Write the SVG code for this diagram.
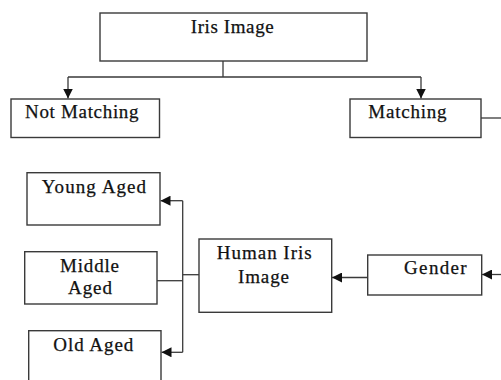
<svg xmlns="http://www.w3.org/2000/svg" width="501" height="380" viewBox="0 0 501 380">
<style>
.box{fill:#fff;stroke:#3a3a3a;stroke-width:1.4}
.t{font-family:"Liberation Serif","Times New Roman",serif;font-size:19px;fill:#111;stroke:#111;stroke-width:0.25}
.ln{fill:none;stroke:#3a3a3a;stroke-width:1.3}
</style>
<defs>
<marker id="ah" viewBox="0 0 10 10" refX="10" refY="5" markerWidth="10" markerHeight="10" markerUnits="userSpaceOnUse" orient="auto">
<path d="M0,0 L10,5 L0,10 z" fill="#111"/>
</marker>
</defs>
<g id="connectors">
<path class="ln" d="M223,61 V77 M68,77 H421"/>
<path class="ln" d="M68,77 V98.5" marker-end="url(#ah)"/>
<path class="ln" d="M421,77 V98.5" marker-end="url(#ah)"/>
<path class="ln" d="M481,118 H501"/>
<path class="ln" d="M501,274.5 H482" marker-end="url(#ah)"/>
<path class="ln" d="M367.7,277.5 H332" marker-end="url(#ah)"/>
<path class="ln" d="M199,274.7 H182.7"/>
<path class="ln" d="M157,280.7 H182.7"/>
<path class="ln" d="M182.7,200.7 V352.3"/>
<path class="ln" d="M182.7,200.7 H160.5" marker-end="url(#ah)"/>
<path class="ln" d="M182.7,352.3 H161.5" marker-end="url(#ah)"/>
</g>
<g id="iris-image">
<rect class="box" x="100" y="13" width="267" height="48"/>
<text class="t" x="190.7" y="32.5" textLength="83" lengthAdjust="spacing">Iris Image</text>
</g>
<g id="not-matching">
<rect class="box" x="11" y="99" width="148.5" height="38.5"/>
<text class="t" x="25" y="118.3" textLength="113.5" lengthAdjust="spacing">Not Matching</text>
</g>
<g id="matching">
<rect class="box" x="350" y="99" width="131" height="38.5"/>
<text class="t" x="368.3" y="118.3" textLength="78.3" lengthAdjust="spacing">Matching</text>
</g>
<g id="young-aged">
<rect class="box" x="27" y="172.7" width="133" height="52.3"/>
<text class="t" x="41.7" y="193" textLength="104.3" lengthAdjust="spacing">Young Aged</text>
</g>
<g id="middle-aged">
<rect class="box" x="24.7" y="251.7" width="132.3" height="52.3"/>
<text class="t" x="60" y="271.7" textLength="59" lengthAdjust="spacing">Middle</text>
<text class="t" x="68" y="294" textLength="44" lengthAdjust="spacing">Aged</text>
</g>
<g id="old-aged">
<rect class="box" x="28.7" y="330.7" width="132.3" height="60"/>
<text class="t" x="53.3" y="350.7" textLength="80" lengthAdjust="spacing">Old Aged</text>
</g>
<g id="human-iris-image">
<rect class="box" x="199" y="239" width="132.7" height="73.3"/>
<text class="t" x="216.7" y="259" textLength="95" lengthAdjust="spacing">Human Iris</text>
<text class="t" x="238" y="282.7" textLength="51" lengthAdjust="spacing">Image</text>
</g>
<g id="gender">
<rect class="box" x="367.7" y="255" width="114" height="40"/>
<text class="t" x="404" y="274.3" textLength="62.7" lengthAdjust="spacing">Gender</text>
</g>
</svg>
